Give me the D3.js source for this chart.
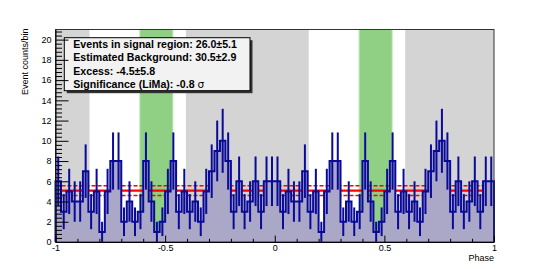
<!DOCTYPE html>
<html><head><meta charset="utf-8">
<script src="https://cdn.jsdelivr.net/npm/d3@7"></script>
<style>
body{margin:0;background:#fff}
svg{display:block}
text{font-family:"Liberation Sans",Arial,Helvetica,sans-serif}
</style>
</head><body>
<svg id="c" width="552" height="269"></svg>
<script>
// ---- data ----
const phaseMin = -1, phaseMax = 1, binWidth = 0.025;
const counts = [
  6,3,5,4,4,7,3,5,1,5, 8,8,2,4,2,3,8,4,1,2, 5,8,3,5,3,4,2,5,7,9, 10,8,3,6,3,4,6,3,6,6,
  6,3,5,4,4,7,3,5,1,5, 8,8,2,4,2,3,8,4,1,2, 5,8,3,5,3,4,2,5,7,9, 10,8,3,6,3,4,6,3,6,6
];
const backgroundRegions = [[-1, -0.845], [-0.405, 0.155], [0.595, 1]];
const signalRegions = [[-0.615, -0.465], [0.385, 0.535]];
const bgLevel = 5.08, bgError = 0.48;
const xTickValues = [-1, -0.5, 0, 0.5, 1];
const xTickLabels = ["-1", "-0.5", "0", "0.5", "1"];
const yTickValues = [0, 2, 4, 6, 8, 10, 12, 14, 16, 18, 20];
const yTickLabels = ["0", "2", "4", "6", "8", "10", "12", "14", "16", "18", "20"];
const xTitle = "Phase", yTitle = "Event counts/bin";
const statsLines = [
  "Events in signal region: 26.0\u00b15.1",
  "Estimated Background: 30.5\u00b12.9",
  "Excess: -4.5\u00b15.8",
  "Significance (LiMa): -0.8 "
];

// ---- layout ----
const L = 55.5, R = 494, T = 29.5, B = 242;
const x = d3.scaleLinear().domain([phaseMin, phaseMax]).range([L, R]);
const y = d3.scaleLinear().domain([0, 21]).range([B, T]);
const svg = d3.select("#c");

// regions
svg.selectAll("rect.bg").data(backgroundRegions).enter().append("rect")
  .attr("x", d => x(d[0])).attr("y", T).attr("width", d => x(d[1]) - x(d[0])).attr("height", B - T)
  .attr("fill", "#d4d4d4");
svg.selectAll("rect.sig").data(signalRegions).enter().append("rect")
  .attr("x", d => x(d[0])).attr("y", T).attr("width", d => x(d[1]) - x(d[0])).attr("height", B - T)
  .attr("fill", "#90d084").attr("stroke", "#b4e2aa").attr("stroke-width", 1);

// background level lines
svg.append("line").attr("x1", x(phaseMin)).attr("x2", x(phaseMax))
  .attr("y1", y(bgLevel)).attr("y2", y(bgLevel)).attr("stroke", "#ff0000").attr("stroke-width", 2.2);
[bgLevel - bgError, bgLevel + bgError].forEach(v => {
  svg.append("line").attr("x1", x(phaseMin)).attr("x2", x(phaseMax))
    .attr("y1", y(v)).attr("y2", y(v)).attr("stroke", "#ff0000").attr("stroke-width", 1.6)
    .attr("stroke-dasharray", "4,2");
});

// histogram
const bins = counts.map((n, i) => ({ lo: phaseMin + i * binWidth, n }));
const stepPts = bins.map(b => [b.lo, b.n]).concat([[phaseMax, counts[counts.length - 1]]]);
const area = d3.area().curve(d3.curveStepAfter).x(d => x(d[0])).y0(y(0)).y1(d => y(d[1]));
svg.append("path").attr("d", area(stepPts)).attr("fill", "#aaa7c7");
const outlinePts = [[phaseMin, 0]].concat(stepPts).concat([[phaseMax, 0]]);
const line = d3.line().curve(d3.curveStepAfter).x(d => x(d[0])).y(d => y(d[1]));
svg.append("path").attr("d", line(outlinePts)).attr("fill", "none")
  .attr("stroke", "#0a0a99").attr("stroke-width", 2);
// error bars
svg.selectAll("line.err").data(bins).enter().append("line")
  .attr("x1", d => x(d.lo + binWidth / 2)).attr("x2", d => x(d.lo + binWidth / 2))
  .attr("y1", d => y(Math.max(0, d.n - Math.sqrt(d.n))))
  .attr("y2", d => y(Math.min(21, d.n + Math.sqrt(d.n))))
  .attr("stroke", "#0a0a99").attr("stroke-width", 2);

// stats box
const bx = 64.3, by = 37.7, bw = 185.7, bh = 53;
svg.append("rect").attr("x", bx + 2.5).attr("y", by + 2.5).attr("width", bw).attr("height", bh).attr("fill", "#333");
svg.append("rect").attr("x", bx).attr("y", by).attr("width", bw).attr("height", bh)
  .attr("fill", "#f2f2f2").attr("stroke", "#000").attr("stroke-width", 1);
const baselines = [47.6, 61.2, 74.6, 87.9];
statsLines.forEach((s, i) => {
  const t = svg.append("text").attr("x", 73.3).attr("y", baselines[i])
    .attr("font-size", 10.6).attr("font-weight", "bold").attr("fill", "#000").text(s);
  if (i === 3) t.append("tspan").attr("font-weight", "normal").attr("font-family", "DejaVu Sans").text("\u03c3");
});

// frame
svg.append("rect").attr("x", L).attr("y", T).attr("width", R - L).attr("height", B - T)
  .attr("fill", "none").attr("stroke", "#333").attr("stroke-width", 1);

// axes
const xAxis = d3.axisBottom(x).tickValues(xTickValues).tickFormat((d, i) => xTickLabels[i])
  .tickSize(-6.4).tickSizeOuter(0).tickPadding(2.2);
const gx = svg.append("g").attr("transform", `translate(0,${B})`).call(xAxis);
const xMinor = d3.range(0, 21).filter(i => i % 5 !== 0).map(i => phaseMin + i * 0.1);
svg.append("g").attr("transform", `translate(0,${B})`)
  .call(d3.axisBottom(x).tickValues(xMinor).tickFormat("").tickSize(-3.2).tickSizeOuter(0))
  .select(".domain").remove();

const yAxis = d3.axisLeft(y).tickValues(yTickValues).tickFormat((d, i) => yTickLabels[i])
  .tickSize(-13).tickSizeOuter(0).tickPadding(4);
const gy = svg.append("g").attr("transform", `translate(${L},0)`).call(yAxis);
const yMinor = d3.range(0, 53).filter(i => i % 5 !== 0).map(i => i * 0.4).filter(v => v <= 21);
svg.append("g").attr("transform", `translate(${L},0)`)
  .call(d3.axisLeft(y).tickValues(yMinor).tickFormat("").tickSize(-6.5).tickSizeOuter(0))
  .select(".domain").remove();

svg.selectAll(".tick text").attr("font-size", 9).attr("font-family", "Liberation Sans, Arial, sans-serif").attr("fill", "#000");
svg.selectAll(".tick line").attr("stroke", "#000");
svg.selectAll(".domain").attr("stroke", "#000");

// titles
svg.append("text").attr("x", R).attr("y", 261).attr("text-anchor", "end")
  .attr("font-size", 9).text(xTitle);
svg.append("text").attr("transform", `translate(28,${T - 1}) rotate(-90)`).attr("text-anchor", "end")
  .attr("font-size", 9).text(yTitle);
</script>
</body></html>
